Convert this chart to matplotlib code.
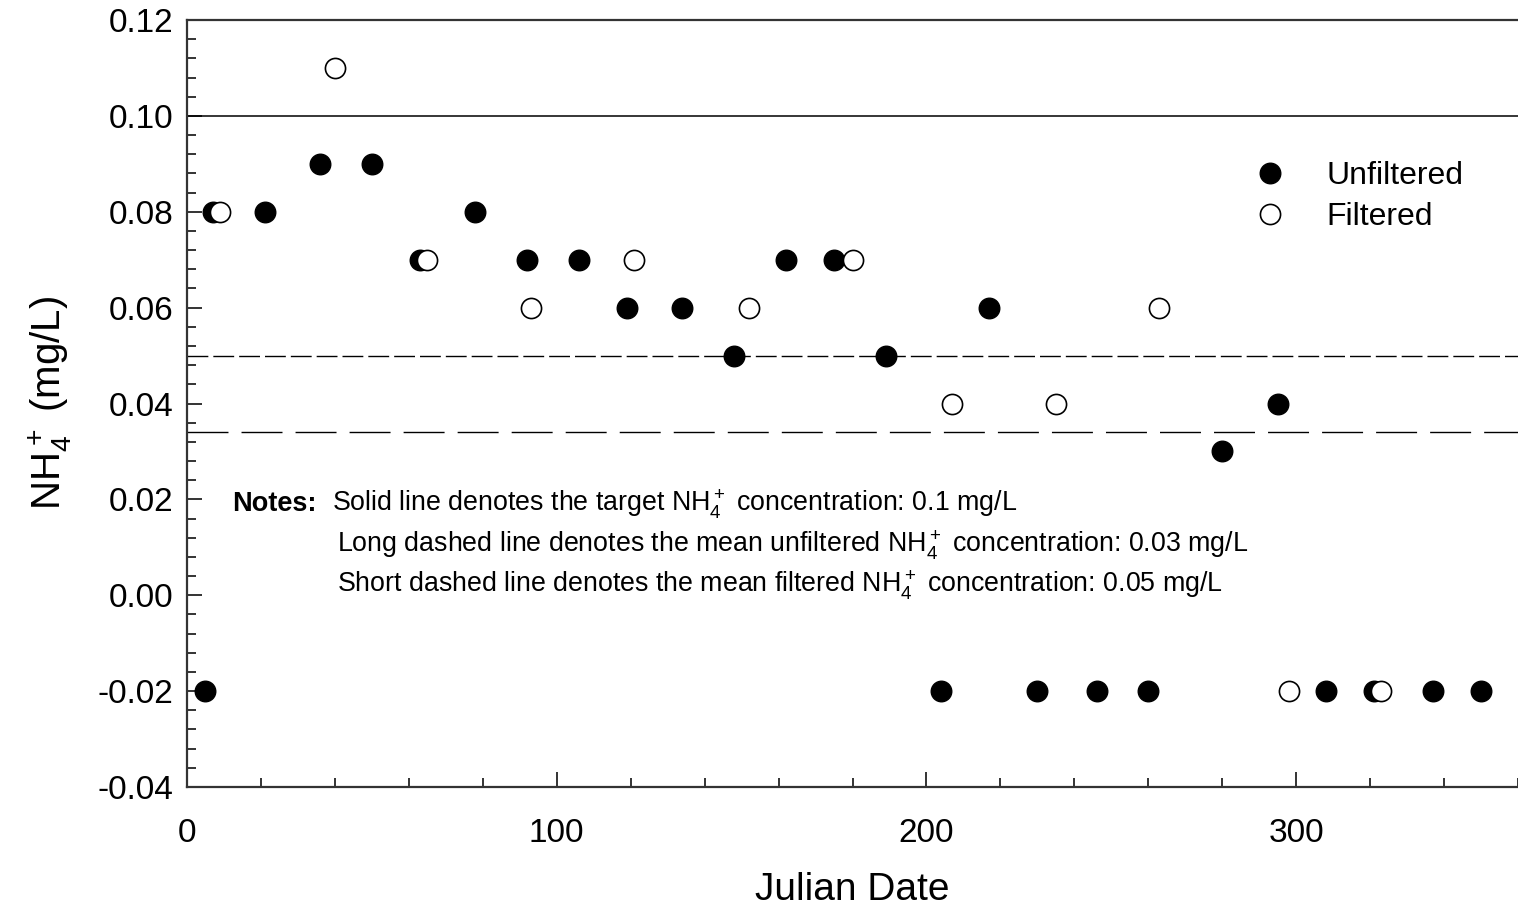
import numpy as np
import matplotlib
matplotlib.use("Agg")
import matplotlib.pyplot as plt
from matplotlib.ticker import MultipleLocator

plt.rcParams['font.family'] = ['Liberation Sans', 'DejaVu Sans']
plt.rcParams['mathtext.fontset'] = 'custom'
plt.rcParams['mathtext.rm'] = 'Liberation Sans'
plt.rcParams['mathtext.default'] = 'regular'

# julian date / NH4+ concentration (mg/L)
unf_day = [5, 7, 21, 36, 50, 63, 78, 92, 106, 119, 134, 148, 162, 175, 189,
           204, 217, 230, 246, 260, 280, 295, 308, 321, 337, 350]
unf_nh4 = [-0.02, 0.08, 0.08, 0.09, 0.09, 0.07, 0.08, 0.07, 0.07, 0.06, 0.06, 0.05, 0.07, 0.07, 0.05,
           -0.02, 0.06, -0.02, -0.02, -0.02, 0.03, 0.04, -0.02, -0.02, -0.02, -0.02]

fil_day = [9, 40, 65, 93, 121, 152, 180, 207, 235, 263, 298, 323]
fil_nh4 = [0.08, 0.11, 0.07, 0.06, 0.07, 0.06, 0.07, 0.04, 0.04, 0.06, -0.02, -0.02]

target = 0.10
mean_filtered = 0.05
mean_unfiltered = 0.034

fig = plt.figure(figsize=(15.18, 9.11), dpi=100)
ax = fig.add_axes([187/1518, 124/911, 1331/1518, 767/911])

#reference lines
ax.axhline(target, color="black", lw=1.1)
ax.axhline(mean_filtered, color="black", lw=1.0, dashes=(15, 3.6))
ax.axhline(mean_unfiltered, color="black", lw=1.0, dashes=(29.5, 9.4))

#points
ax.plot(unf_day, unf_nh4, ls="none", marker="o", ms=14.8, mfc="black", mec="black", mew=1, label="Unfiltered")
ax.plot(fil_day, fil_nh4, ls="none", marker="o", ms=14.5, mfc="white", mec="black", mew=1.2, label="Filtered")

ax.set_xlim(0, 360)
ax.set_ylim(-0.04, 0.12)
ax.xaxis.set_major_locator(MultipleLocator(100))
ax.xaxis.set_minor_locator(MultipleLocator(20))
ax.yaxis.set_major_locator(MultipleLocator(0.02))
ax.yaxis.set_minor_locator(MultipleLocator(0.004))
ax.yaxis.set_major_formatter(matplotlib.ticker.FormatStrFormatter("%.2f"))

ax.tick_params(which="both", direction="in", color="#333333", width=1.4, labelsize=24)
ax.tick_params(which="major", length=11)
ax.tick_params(which="minor", length=6.5)
ax.tick_params(axis="x", pad=22)
ax.tick_params(axis="y", pad=10)

for side in ["left", "bottom", "top"]:
    ax.spines[side].set_color("#333333")
    ax.spines[side].set_linewidth(1.6)
ax.spines["right"].set_visible(False)

ax.set_xlabel("Julian Date", fontsize=28, labelpad=17)
ax.set_ylabel(r"NH$_4^+$ (mg/L)", fontsize=29, labelpad=17)

ax.legend(loc="upper left", bbox_to_anchor=(0.802, 0.816), frameon=False, fontsize=23,
          handlelength=1.0, handletextpad=1.25, borderpad=0, borderaxespad=0, labelspacing=0.34)

#notes
ax.text(12.2, 0.019, "Notes:", fontsize=19.5, fontweight="bold", va="center")
ax.text(39.2, 0.019, r"Solid line denotes the target NH$_4^+$ concentration: 0.1 mg/L", fontsize=19.3, va="center")
ax.text(40.5, 0.0105, r"Long dashed line denotes the mean unfiltered NH$_4^+$ concentration: 0.03 mg/L", fontsize=19.3, va="center")
ax.text(40.5, 0.0021, r"Short dashed line denotes the mean filtered NH$_4^+$ concentration: 0.05 mg/L", fontsize=19.3, va="center")

fig.savefig("out.png", dpi=100)
